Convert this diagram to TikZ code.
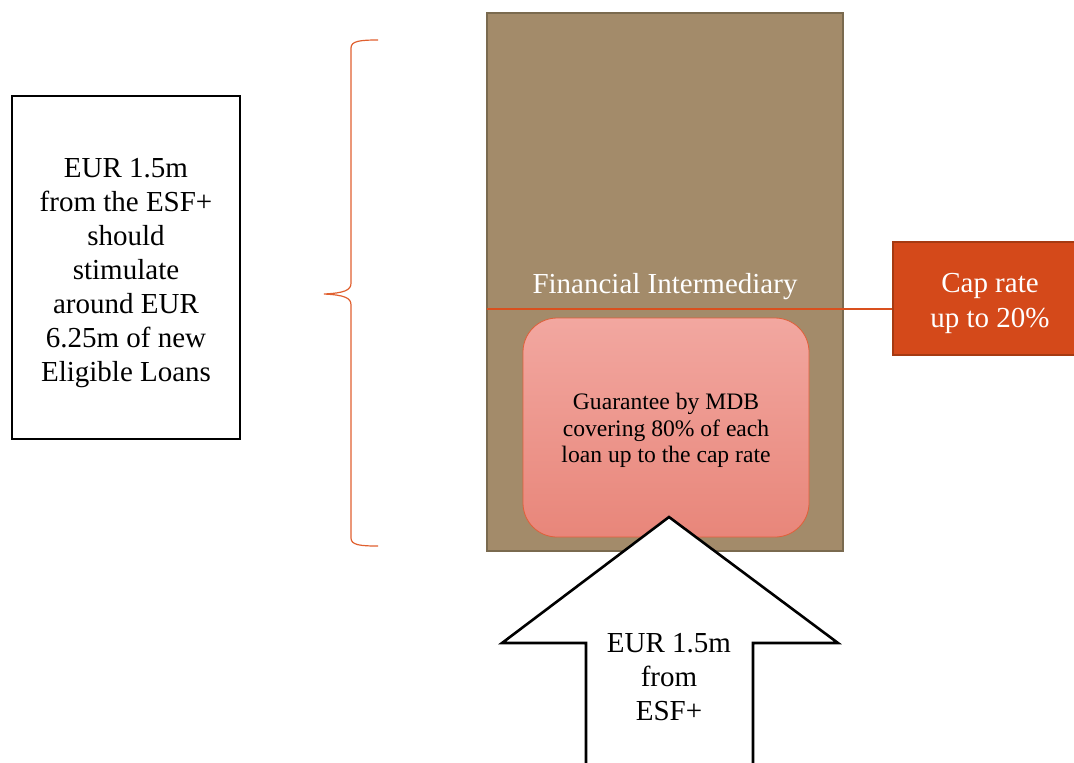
\documentclass[tikz,border=0pt]{standalone}
\usepackage{fontspec}
\setmainfont{Liberation Serif}
\usepackage{xcolor}
\definecolor{brownfill}{HTML}{A38B6A}
\definecolor{brownline}{HTML}{7A6A4F}
\definecolor{capfill}{HTML}{D4491A}
\definecolor{capdark}{HTML}{A53A12}
\definecolor{redline}{HTML}{D9501E}
\definecolor{braceline}{HTML}{E0602F}
\definecolor{guartop}{HTML}{F2A7A0}
\definecolor{guarbot}{HTML}{E8867A}
\definecolor{guarline}{HTML}{E0603A}

\begin{document}
\begin{tikzpicture}[x=0.5pt,y=-0.5pt,
        txt/.style={align=center,font=\fontsize{14.5}{17}\selectfont},
        small/.style={align=center,font=\fontsize{11.8}{13.4}\selectfont}]
        \useasboundingbox (0,0) rectangle (1074,762);

        % Draw left box
        \node[draw=black,line width=1.2pt,minimum width=114pt,minimum height=171.5pt,inner sep=0pt] (loans) at (126,267.5) {};
        \node[txt] (loanstext) at (126,273) {EUR 1.5m\\from the ESF+\\should\\stimulate\\around EUR\\6.25m of new\\Eligible Loans};

        % Draw brace
        \draw[braceline,line width=0.6pt] (378,40) .. controls (360,40) and (351,41) .. (351,48) -- (351,283) .. controls (351,290) and (345,293) .. (324,294) .. controls (345,295) and (351,298) .. (351,305) -- (351,538) .. controls (351,545) and (360,546) .. (378,546);

        % Draw intermediary box
        \node[draw=brownline,fill=brownfill,line width=1.4pt,minimum width=178pt,minimum height=269pt,inner sep=0pt] (fi) at (665,282) {};
        \node[txt,text=white,anchor=base] (filabel) at (665,293) {Financial Intermediary};

        % Draw cap rate box
        \node[draw=capdark,fill=capfill,line width=1pt,minimum width=97pt,minimum height=56.5pt,inner sep=0pt] (cap) at (990,298.5) {};
        \node[txt,text=white,font=\fontsize{14.5}{17.5}\selectfont] (captext) at (990,303) {Cap rate\\up to 20\%};
        \coordinate (capstart) at (487,309);
        \draw[redline,line width=1pt] (capstart) -- (capstart -| cap.west);

        % Draw guarantee box
        \node[draw=guarline,top color=guartop,bottom color=guarbot,rounded corners=17pt,minimum width=143pt,minimum height=109.5pt,inner sep=0pt] (mdb) at (666,427.5) {};
        \node[small] (mdbtext) at (666,430.5) {Guarantee by MDB\\covering 80\% of each\\loan up to the cap rate};

        % Draw arrow
        \draw[fill=white,line width=1.3pt,line join=miter] (586,775) -- (586,643) -- (502,643) -- (669,517) -- (838,643) -- (753,643) -- (753,775);
        \node[txt] (esf) at (669,677) {EUR 1.5m\\from\\ESF+};

\end{tikzpicture}
\end{document}
